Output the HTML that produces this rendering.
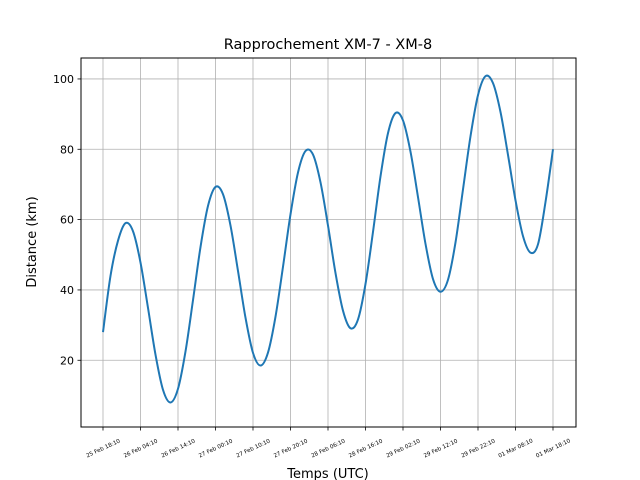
<!DOCTYPE html>
<html><head><meta charset="utf-8"><style>
body{margin:0;background:#fff}
svg{display:block;font-family:"DejaVu Sans","Liberation Sans",sans-serif}
</style></head><body>
<svg id="chart" width="640" height="480" viewBox="0 0 640 480">
<rect width="640" height="480" fill="#fff"/>
<text x="328" y="49" text-anchor="middle" font-size="14.5">Rapprochement XM-7 - XM-8</text>
<g id="grid"></g>
<g id="xticks"></g>
<g id="yticks"></g>
<path id="line" fill="none" stroke="#1f77b4" stroke-width="2"/>
<rect x="81" y="58" width="495" height="369" fill="none" stroke="#000" stroke-width="1"/>
<text x="328" y="478" text-anchor="middle" font-size="13">Temps (UTC)</text>
<text transform="translate(36,242) rotate(-90)" text-anchor="middle" font-size="13">Distance (km)</text>
</svg>
<script>
const hours = [0,2,4,6,8,10,12,14,16,18,20,22,24,26,28,30,32,34,36,38,40,42,44,46,48,50,52,54,56,58,60,62,64,66,68,70,72,74,76,78,80,82,84,86,88,90,92,94,96,98,100,102,104,106,108,110,112,114,116,118,120];
const distances = [28,44,54,59,56.7,47.8,34.9,21.6,11.6,8,11.9,22.5,37.1,52.2,63.9,69.3,67.2,58.3,45.4,32.1,22.1,18.5,22.2,32.4,46.6,61.5,73.4,79.5,78.5,70.6,58.3,44.8,34.1,29.1,31.6,41.7,56.5,72.3,84.6,90.3,88.2,79.3,66.4,53.1,43.1,39.5,42.9,53.5,68.6,83.7,95.4,100.8,98.8,90.6,78.4,65.5,55.3,50.6,53,65,80];
const xTickHours = [0,10,20,30,40,50,60,70,80,90,100,110,120];
const xTickLabels = ["25 Feb 18:10","26 Feb 04:10","26 Feb 14:10","27 Feb 00:10","27 Feb 10:10","27 Feb 20:10","28 Feb 06:10","28 Feb 16:10","29 Feb 02:10","29 Feb 12:10","29 Feb 22:10","01 Mar 08:10","01 Mar 18:10"];
const yTicks = [20,40,60,80,100];

const NS="http://www.w3.org/2000/svg";
const xs = h => 103 + h*3.75;
const ys = v => 430.6 - v*3.5165;
const grid=document.getElementById('grid'), xt=document.getElementById('xticks'), yt=document.getElementById('yticks');
function mk(tag, attrs){const e=document.createElementNS(NS,tag);for(const k in attrs)e.setAttribute(k,attrs[k]);return e;}
xTickHours.forEach((h,i)=>{
  const x=xs(h);
  const g=mk('line',{x1:x,x2:x,y1:58,y2:427,stroke:'#b0b0b0','stroke-width':0.8});
  
  
  grid.appendChild(g);
  const t=mk('line',{x1:x,x2:x,y1:427,y2:430.5,stroke:'#000','stroke-width':0.8});
  
  
  xt.appendChild(t);
  const l=mk('text',{x:x,y:450,'font-size':5.6,'text-anchor':'middle',transform:`rotate(-25 ${x} 448)`});
  
  
  l.textContent=xTickLabels[i];
  xt.appendChild(l);
});
yTicks.forEach(v=>{
  const y=ys(v);
  const g=mk('line',{x1:81,x2:576,y1:y,y2:y,stroke:'#b0b0b0','stroke-width':0.8});
  
  
  grid.appendChild(g);
  const t=mk('line',{x1:77.5,x2:81,y1:y,y2:y,stroke:'#000','stroke-width':0.8});
  
  
  yt.appendChild(t);
  const l=mk('text',{x:74,y:y+4,'font-size':11,'text-anchor':'end'});
  
  
  l.textContent=v;
  yt.appendChild(l);
});
const pts=hours.map((h,i)=>[xs(h),ys(distances[i])]);
let d='M'+pts[0][0]+','+pts[0][1];
for(let i=0;i<pts.length-1;i++){
  const p0=pts[Math.max(0,i-1)],p1=pts[i],p2=pts[i+1],p3=pts[Math.min(pts.length-1,i+2)];
  const c1=[p1[0]+(p2[0]-p0[0])/6,p1[1]+(p2[1]-p0[1])/6];
  const c2=[p2[0]-(p3[0]-p1[0])/6,p2[1]-(p3[1]-p1[1])/6];
  d+=` C${c1[0]},${c1[1]} ${c2[0]},${c2[1]} ${p2[0]},${p2[1]}`;
}
document.getElementById('line').setAttribute('d',d);
</script>
</body></html>
